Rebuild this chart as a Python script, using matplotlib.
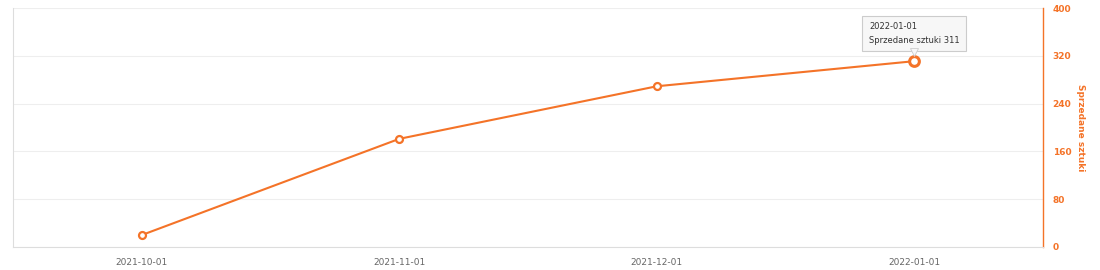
import matplotlib
matplotlib.use("Agg")
import matplotlib.pyplot as plt
import matplotlib.transforms as mtransforms

months = ["2021-10-01", "2021-11-01", "2021-12-01", "2022-01-01"]
sold = [20, 181, 269, 311]
y_ticks = [0, 80, 160, 240, 320, 400]

orange = "#f47328"
fig = plt.figure(figsize=(11, 2.7), dpi=100)
ax = fig.add_axes([13 / 1100, 23 / 270, 1030 / 1100, 239 / 270])

x = list(range(len(months)))
ax.plot(x, sold, color=orange, lw=1.5, marker="o", ms=5, mfc="white",
        mec=orange, mew=1.6, zorder=3)
# highlighted point (hover)
ax.plot(x[-1], sold[-1], "o", ms=7, mfc="white", mec=orange, mew=2.2, zorder=4)

ax.set_xlim(-0.5, len(months) - 0.5)
ax.set_ylim(0, 400)
ax.set_xticks(x)
ax.set_xticklabels(months, fontsize=6.5, color="#666666")
ax.tick_params(axis="x", length=0, pad=8)

ax.yaxis.tick_right()
ax.yaxis.set_label_position("right")
ax.set_yticks(y_ticks)
ax.set_yticklabels([str(v) for v in y_ticks], fontsize=6.5, color=orange,
                   fontweight="bold")
ax.tick_params(axis="y", length=0, pad=7)
ax.set_ylabel("Sprzedane sztuki", color=orange, fontsize=6.5,
              fontweight="bold", rotation=-90, labelpad=10)

ax.grid(axis="y", color="#eeeeee", lw=0.8)
ax.spines["top"].set_visible(False)
ax.spines["left"].set_color("#dddddd")
ax.spines["bottom"].set_color("#dddddd")
ax.spines["right"].set_color(orange)
ax.spines["right"].set_linewidth(1.0)

# tooltip
ax.annotate(f"{months[-1]}\nSprzedane sztuki {sold[-1]}",
            xy=(x[-1], sold[-1]), xytext=(0, 12), textcoords="offset points",
            fontsize=6, color="#333333", va="bottom", ha="center",
            multialignment="left", linespacing=1.6,
            bbox=dict(boxstyle="square,pad=0.8", fc="#f7f7f7", ec="#cccccc",
                      lw=0.8),
            zorder=5)
shift = mtransforms.ScaledTranslation(0, 9 / 100, fig.dpi_scale_trans)
ax.plot(x[-1], sold[-1], marker="v", ms=6, mfc="#f7f7f7", mec="#cccccc",
        mew=0.6, zorder=6, transform=ax.transData + shift)

fig.savefig("out.png", dpi=100)
